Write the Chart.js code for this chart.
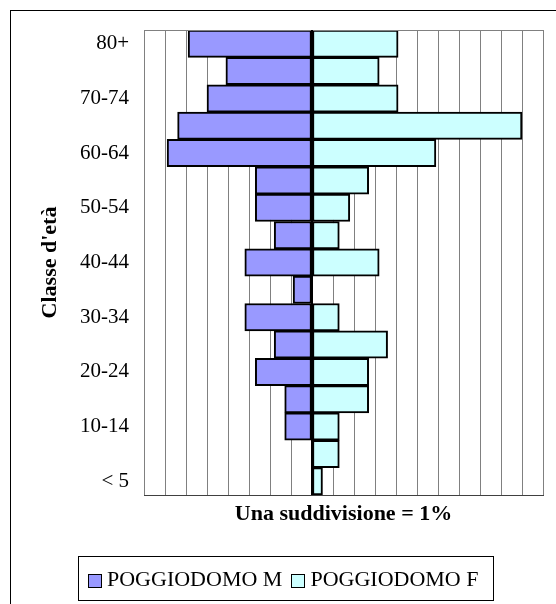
<!DOCTYPE html>
<html>
<head>
<meta charset="utf-8">
<script src="https://cdn.jsdelivr.net/npm/chart.js@4/dist/chart.umd.min.js"></script>
<style>
  html, body { margin: 0; padding: 0; background: #fff; overflow: hidden; }
  #wrap { position: relative; width: 556px; height: 604px; }
  #frame { position: absolute; left: 10px; top: 10px; width: 700px; height: 800px;
           border-left: 1px solid #000; border-top: 1px solid #000; }
  canvas { position: absolute; left: 0; top: 0; }
  #legend { position: absolute; left: 78px; top: 556px; width: 414px; height: 43px;
            border: 1px solid #000; font-family: "Liberation Serif", serif; font-size: 22px;
            color: #000; display: flex; align-items: center; white-space: nowrap; }
  #legend span.box { display: inline-block; width: 12px; height: 12px; border: 1px solid #000;
                     margin: 4px 5px 0 9px; }
</style>
</head>
<body>
<div id="wrap">
  <div id="frame"></div>
  <canvas id="chart" width="556" height="604"></canvas>
  <div id="legend">
    <span class="box" style="background:#9999FF"></span>POGGIODOMO M
    <span class="box" style="background:#CCFFFF;margin-left:9px"></span>POGGIODOMO F
  </div>
</div>
<script>
// classi d'età, dal basso verso l'alto
const ages = ["< 5", "5-9", "10-14", "15-19", "20-24", "25-29", "30-34", "35-39", "40-44",
  "45-49", "50-54", "55-59", "60-64", "65-69", "70-74", "75-79", "80+"];
// percentuali
const maschi = [0, 0, 1.3, 1.3, 2.7, 1.8, 3.2, 0.9, 3.2, 1.8, 2.7, 2.7, 6.9, 6.4, 5.0, 4.1, 5.9];
const femmine = [0.5, 1.3, 1.3, 2.7, 2.7, 3.6, 1.3, 0, 3.2, 1.3, 1.8, 2.7, 5.9, 10.0, 4.1, 3.2, 4.1];
const xMin = -8;
const xMax = 11;

// bordo superiore dell'area e linea centrale nera
const extraLines = {
  id: "extraLines",
  afterDatasetsDraw(chart) {
    const { ctx, chartArea, scales } = chart;
    ctx.save();
    ctx.strokeStyle = "#808080";
    ctx.lineWidth = 1;
    ctx.beginPath();
    ctx.moveTo(chartArea.left, chartArea.top + 0.5);
    ctx.lineTo(chartArea.right, chartArea.top + 0.5);
    ctx.stroke();
    const x0 = scales.x.getPixelForValue(0);
    ctx.strokeStyle = "#000";
    ctx.lineWidth = 2;
    ctx.beginPath();
    ctx.moveTo(x0, chartArea.top);
    ctx.lineTo(x0, chartArea.bottom);
    ctx.stroke();
    ctx.restore();
  },
};

const ctx = document.getElementById("chart").getContext("2d");
new Chart(ctx, {
  type: "bar",
  data: {
    labels: ages,
    datasets: [
      {
        label: "POGGIODOMO M",
        data: maschi.map((v) => -v),
        backgroundColor: "#9999FF",
        borderColor: "#000",
        borderWidth: 2,
        borderSkipped: false,
      },
      {
        label: "POGGIODOMO F",
        data: femmine,
        backgroundColor: "#CCFFFF",
        borderColor: "#000",
        borderWidth: 2,
        borderSkipped: false,
      },
    ],
  },
  options: {
    indexAxis: "y",
    responsive: false,
    animation: false,
    datasets: { bar: { barPercentage: 1, categoryPercentage: 1 } },
    layout: { padding: { left: 10, top: 30, right: 13, bottom: 69 } },
    plugins: {
      legend: { display: false },
      tooltip: { enabled: false },
    },
    scales: {
      x: {
        stacked: true,
        min: xMin,
        max: xMax,
        ticks: { display: false, stepSize: 1 },
        grid: { color: "#808080", lineWidth: 1, drawTicks: false },
        border: { display: true, color: "#404040", width: 1 },
        title: {
          display: true,
          text: "Una suddivisione = 1%",
          color: "#000",
          font: { family: "Liberation Serif", size: 22, weight: "bold" },
          padding: { top: 0, bottom: 7 },
        },
        afterFit: (s) => { s.height = 40; },
      },
      y: {
        stacked: true,
        reverse: true,
        grid: { display: false, drawTicks: false },
        border: { display: false },
        ticks: {
          autoSkip: false,
          padding: 15,
          color: "#000",
          font: { family: "Liberation Serif", size: 21 },
          callback: function (value, index) {
            return index % 2 === 0 ? ages[index] : "";
          },
        },
        title: {
          display: true,
          text: "Classe d'età",
          color: "#000",
          font: { family: "Liberation Serif", size: 22, weight: "bold" },
          padding: { top: 27, bottom: 0 },
        },
        afterFit: (s) => { s.width = 134; },
      },
    },
  },
  plugins: [extraLines],
});
</script>
</body>
</html>
